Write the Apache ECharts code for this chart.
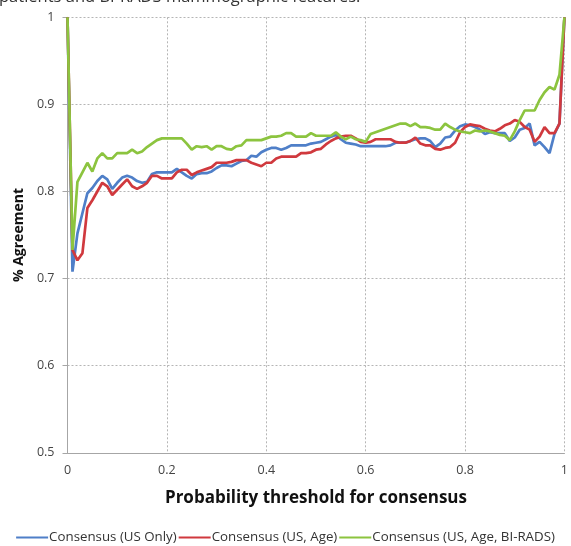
<!DOCTYPE html>
<html>
<head>
<meta charset="utf-8">
<script src="https://cdn.jsdelivr.net/npm/echarts@6/dist/echarts.min.js"></script>
<style>html,body{margin:0;padding:0;background:#fff;}#c{width:571px;height:546px;}</style>
</head>
<body>
<div id="c"></div>
<script>
var thresholds = [0,0.01,0.02,0.03,0.04,0.05,0.06,0.07,0.08,0.09,0.1,0.11,0.12,0.13,0.14,0.15,0.16,0.17,0.18,0.19,0.2,0.21,0.22,0.23,0.24,0.25,0.26,0.27,0.28,0.29,0.3,0.31,0.32,0.33,0.34,0.35,0.36,0.37,0.38,0.39,0.4,0.41,0.42,0.43,0.44,0.45,0.46,0.47,0.48,0.49,0.5,0.51,0.52,0.53,0.54,0.55,0.56,0.57,0.58,0.59,0.6,0.61,0.62,0.63,0.64,0.65,0.66,0.67,0.68,0.69,0.7,0.71,0.72,0.73,0.74,0.75,0.76,0.77,0.78,0.79,0.8,0.81,0.82,0.83,0.84,0.85,0.86,0.87,0.88,0.89,0.9,0.91,0.92,0.93,0.94,0.95,0.96,0.97,0.98,0.99,1];

var usOnly = [1.0,0.708,0.752,0.775,0.798,0.804,0.812,0.818,0.814,0.803,0.810,0.816,0.818,0.816,0.812,0.810,0.811,0.820,0.822,0.822,0.822,0.822,0.826,0.822,0.818,0.815,0.820,0.821,0.821,0.823,0.827,0.830,0.830,0.829,0.832,0.835,0.836,0.841,0.840,0.845,0.848,0.850,0.850,0.848,0.850,0.853,0.853,0.853,0.853,0.855,0.856,0.857,0.860,0.863,0.865,0.860,0.856,0.855,0.854,0.852,0.852,0.852,0.852,0.852,0.852,0.853,0.856,0.856,0.856,0.858,0.860,0.861,0.861,0.858,0.851,0.855,0.862,0.863,0.870,0.875,0.877,0.876,0.874,0.871,0.866,0.868,0.867,0.867,0.867,0.858,0.862,0.871,0.873,0.878,0.853,0.857,0.851,0.844,0.866,0.878,1.0];

var usAge = [1.0,0.733,0.721,0.729,0.781,0.790,0.800,0.810,0.806,0.796,0.802,0.808,0.814,0.806,0.803,0.806,0.810,0.818,0.818,0.815,0.815,0.815,0.822,0.825,0.825,0.819,0.822,0.824,0.826,0.828,0.833,0.833,0.833,0.834,0.836,0.836,0.836,0.833,0.831,0.829,0.833,0.833,0.838,0.840,0.840,0.840,0.840,0.844,0.844,0.845,0.848,0.849,0.854,0.858,0.861,0.863,0.864,0.864,0.861,0.857,0.856,0.857,0.860,0.860,0.860,0.860,0.857,0.856,0.856,0.858,0.862,0.855,0.853,0.853,0.849,0.848,0.850,0.851,0.856,0.868,0.874,0.877,0.876,0.875,0.872,0.870,0.869,0.872,0.876,0.878,0.882,0.880,0.874,0.871,0.857,0.863,0.874,0.867,0.867,0.878,1.0];

var usAgeBirads = [1.0,0.733,0.811,0.822,0.833,0.823,0.838,0.844,0.838,0.838,0.844,0.844,0.844,0.848,0.844,0.846,0.851,0.855,0.859,0.861,0.861,0.861,0.861,0.861,0.855,0.848,0.852,0.851,0.852,0.848,0.852,0.852,0.849,0.848,0.852,0.853,0.859,0.859,0.859,0.859,0.861,0.863,0.863,0.864,0.867,0.867,0.863,0.863,0.863,0.867,0.864,0.864,0.864,0.864,0.868,0.863,0.860,0.863,0.860,0.859,0.857,0.866,0.868,0.870,0.872,0.874,0.876,0.878,0.878,0.875,0.878,0.874,0.874,0.873,0.871,0.871,0.878,0.874,0.871,0.869,0.868,0.867,0.870,0.869,0.870,0.869,0.867,0.865,0.864,0.859,0.869,0.882,0.893,0.893,0.893,0.905,0.914,0.920,0.917,0.934,1.0];

var seriesNames = ['Consensus (US Only)', 'Consensus (US, Age)', 'Consensus (US, Age, BI-RADS)'];
var seriesColors = ['#4f7fc8', '#d0393e', '#8cc43f'];
var seriesValues = [usOnly, usAge, usAgeBirads];

function pairs(vals) {
  return thresholds.map(function (t, i) { return [t, vals[i]]; });
}

var chart = echarts.init(document.getElementById('c'), null, {renderer: 'canvas'});
var FONT = '"Open Sans", "Liberation Sans", sans-serif';
chart.setOption({
  backgroundColor: '#ffffff',
  animation: false,
  textStyle: {fontFamily: FONT},
  graphic: [{
    type: 'text', left: -1, top: -11,
    style: {text: 'patients and BI-RADS mammographic features.', fontSize: 16.5, fill: '#333', fontFamily: FONT}
  }],
  grid: {left: 67.5, right: 1.5, top: 17.3, bottom: 93.2, containLabel: false},
  legend: {
    bottom: -3, left: 'center',
    itemWidth: 32, itemHeight: 2, itemGap: 2,
    icon: 'rect',
    textStyle: {fontSize: 13.3, color: '#333', fontFamily: FONT, padding: [0, 0, 0, -4]},
    data: seriesNames
  },
  xAxis: {
    type: 'value', min: 0, max: 1, interval: 0.2,
    name: 'Probability threshold for consensus',
    nameLocation: 'middle', nameGap: 37,
    nameTextStyle: {fontSize: 17, fontWeight: 'bold', color: '#111', fontFamily: FONT},
    axisLine: {show: true, lineStyle: {color: '#a6a6a6', width: 1}},
    axisTick: {show: false},
    axisLabel: {fontSize: 12.5, color: '#444', margin: 11, fontFamily: FONT},
    splitLine: {show: true, lineStyle: {color: '#b5b5b5', type: [2, 2], width: 1}}
  },
  yAxis: {
    type: 'value', min: 0.5, max: 1, interval: 0.1,
    name: '% Agreement',
    nameLocation: 'middle', nameGap: 41, nameRotate: 90,
    nameTextStyle: {fontSize: 14, fontWeight: 'bold', color: '#111', fontFamily: FONT},
    axisLine: {show: true, lineStyle: {color: '#a6a6a6', width: 1}},
    axisTick: {show: true, length: 5, lineStyle: {color: '#a6a6a6'}},
    axisLabel: {fontSize: 12.5, color: '#444', margin: 13, fontFamily: FONT,
      formatter: function (v) { return Math.abs(v - 1) < 1e-9 ? '1' : v.toFixed(1); }},
    splitLine: {show: true, lineStyle: {color: '#b5b5b5', type: [2, 2], width: 1}}
  },
  series: seriesValues.map(function (vals, k) {
    return {
      name: seriesNames[k], type: 'line', data: pairs(vals),
      showSymbol: false, symbol: 'none',
      lineStyle: {color: seriesColors[k], width: 2.7},
      itemStyle: {color: seriesColors[k]},
      z: 2 + k
    };
  })
});
</script>
</body>
</html>
